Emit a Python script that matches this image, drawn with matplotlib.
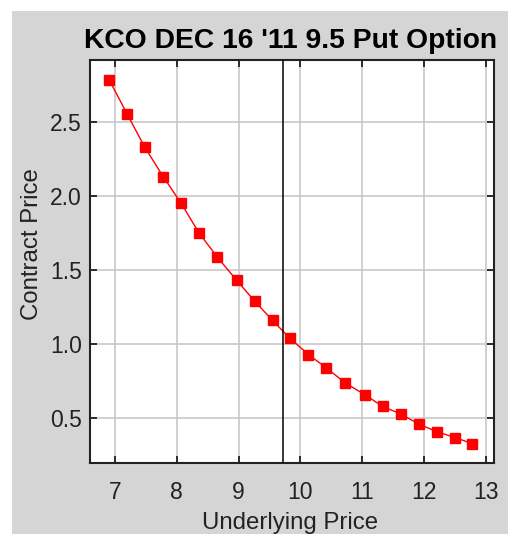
import matplotlib
matplotlib.use("Agg")
import matplotlib.pyplot as plt
from matplotlib.patches import Rectangle

title = "KCO DEC 16 '11 9.5 Put Option"
x_label = "Underlying Price"
y_label = "Contract Price"
underlying = [6.91, 7.20, 7.48, 7.78, 8.07, 8.36, 8.65, 8.97, 9.26, 9.55, 9.83,
              10.13, 10.42, 10.72, 11.04, 11.33, 11.62, 11.92, 12.21, 12.50, 12.78]
contract = [2.78, 2.55, 2.33, 2.13, 1.95, 1.75, 1.59, 1.43, 1.29, 1.16, 1.04,
            0.93, 0.84, 0.74, 0.66, 0.58, 0.53, 0.46, 0.41, 0.37, 0.33]
current_price = 9.715
x_ticks = [7, 8, 9, 10, 11, 12, 13]
y_ticks = [0.5, 1.0, 1.5, 2.0, 2.5]
y_tick_labels = ["0.5", "1.0", "1.5", "2.0", "2.5"]

plt.rcParams['font.family'] = ['Liberation Sans', 'DejaVu Sans']

W, H = 508, 534
fig = plt.figure(figsize=(W / 100, H / 100), dpi=100, facecolor='white')
gray = '#d5d5d5'
fig.patches.append(Rectangle((12 / W, 0), 1, 1 - 11 / H, transform=fig.transFigure,
                             facecolor=gray, edgecolor='none', zorder=-10))

ax = fig.add_axes([90 / W, (H - 463) / H, 404 / W, 403 / H])
ax.set_facecolor('white')
ax.plot(underlying, contract, color='#ff0000', lw=1.0, marker='s', markersize=6.5,
        markeredgecolor='#ff0000', zorder=3)
ax.axvline(current_price, color='black', lw=1.1, zorder=4)

ax.set_xlim(6.597, 13.13)
ax.set_ylim(0.199, 2.916)
ax.set_xticks(x_ticks)
ax.set_yticks(y_ticks)
ax.set_yticklabels(y_tick_labels)
ax.grid(True, color='#c4c4c4', lw=1.1)
ax.set_axisbelow(True)
ax.tick_params(axis='both', direction='in', length=5, width=1.1, color='black',
               labelsize=16.5, top=True, right=True, labelcolor='#222222')
ax.tick_params(axis='x', pad=13)
ax.tick_params(axis='y', pad=6)
for s in ax.spines.values():
    s.set_linewidth(1.5)
    s.set_color('#222222')

fig.text(497 / W, (H - 48) / H, title, ha='right', va='baseline',
         fontsize=20.3, fontweight='bold', color='black')
fig.text(290 / W, (H - 529) / H, x_label, ha='center', va='baseline',
         fontsize=17.3, color='#222222')
fig.text(32 / W, (H - 244) / H, y_label, ha='center', va='center', rotation=90,
         fontsize=17.3, color='#222222')

fig.savefig('out.png', dpi=100, facecolor=fig.get_facecolor())
